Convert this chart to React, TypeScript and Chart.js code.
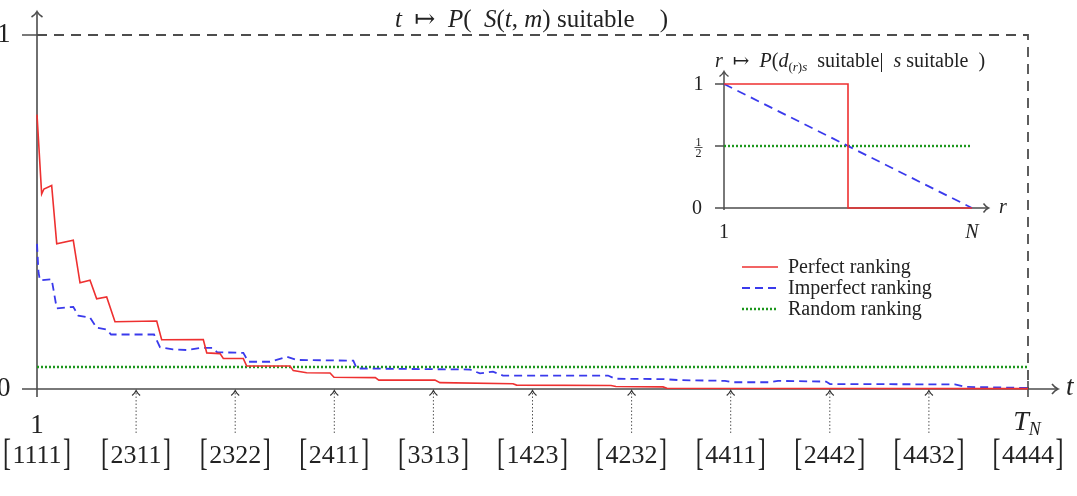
import React, { useEffect, useRef } from "react";
import { Chart, registerables } from "chart.js";

Chart.register(...registerables);

const W = 1077;
const H = 496;
const SERIF = '"Liberation Serif", "Times New Roman", "DejaVu Serif", serif';
const INK = "#222";
const AXIS = "#4d4d4d";

// t axis runs from 0 (t = 1) to 10 (t = T_N); one marker per unit
const markerPos = [0, 1, 2, 3, 4, 5, 6, 7, 8, 9, 10];
const markerLabels = [
  "[1111]", "[2311]", "[2322]", "[2411]", "[3313]", "[1423]",
  "[4232]", "[4411]", "[2442]", "[4432]", "[4444]",
];

// Perfect ranking
const perfectT = [
  0, 0.047, 0.07, 0.148, 0.199, 0.366, 0.434, 0.535, 0.602, 0.703,
  0.787, 1.208, 1.258, 1.678, 1.713, 1.847, 1.88, 2.082, 2.116, 2.553,
  2.586, 2.721, 2.957, 2.997, 3.414, 3.449, 4.016, 4.066, 4.803, 4.839,
  5.792, 5.842, 6.317, 6.357, 10,
];
const perfectP = [
  0.775, 0.551, 0.565, 0.575, 0.41, 0.42, 0.3, 0.307, 0.255, 0.26,
  0.19, 0.192, 0.139, 0.14, 0.102, 0.1, 0.086, 0.086, 0.065, 0.065,
  0.052, 0.046, 0.045, 0.033, 0.032, 0.025, 0.025, 0.018, 0.015, 0.011,
  0.01, 0.007, 0.006, 0.002, 0.001,
];

// Imperfect ranking
const imperfectT = [
  0, 0.015, 0.03, 0.148, 0.199, 0.366, 0.417, 0.535, 0.602, 0.703,
  0.747, 1.181, 1.241, 1.372, 1.514, 1.645, 1.776, 1.816, 2.082, 2.132,
  2.351, 2.52, 2.621, 3.192, 3.226, 4.369, 4.47, 4.601, 4.702, 5.762,
  5.833, 6.317, 6.488, 6.942, 7.023, 7.397, 7.478, 7.962, 8.002, 9.263,
  9.374, 10,
];
const imperfectP = [
  0.41, 0.33, 0.307, 0.31, 0.228, 0.232, 0.207, 0.202, 0.173, 0.168,
  0.154, 0.154, 0.118, 0.112, 0.11, 0.116, 0.116, 0.104, 0.102, 0.077,
  0.077, 0.091, 0.082, 0.08, 0.058, 0.055, 0.044, 0.049, 0.038, 0.038,
  0.029, 0.028, 0.025, 0.023, 0.019, 0.019, 0.023, 0.021, 0.014, 0.013,
  0.006, 0.003,
];

// Random ranking
const randomT = [0, 10];
const randomP = [0.062, 0.062];

// Inset: r from 1 (0) to N (1)
const insetPerfectR = [0, 0.5, 0.5, 1];
const insetPerfectP = [1, 1, 0, 0];
const insetImperfectR = [0, 1];
const insetImperfectP = [1, 0];
const insetRandomR = [0, 1];
const insetRandomP = [0.5, 0.5];

const seriesLabels = ["Perfect ranking", "Imperfect ranking", "Random ranking"];
const RED = "rgb(238, 48, 48)";
const BLUE = "rgb(58, 58, 236)";
const GREEN = "rgb(28, 150, 28)";

type Seg = { s: string; it?: boolean; px?: number; dy?: number };

const mainTitle: Seg[] = [
  { s: "t", it: true },
  { s: "  \u21A6  " },
  { s: "P", it: true },
  { s: "(  " },
  { s: "S", it: true },
  { s: "(" },
  { s: "t", it: true },
  { s: ", " },
  { s: "m", it: true },
  { s: ") suitable    )" },
];

const insetTitle: Seg[] = [
  { s: "r", it: true },
  { s: "  \u21A6  " },
  { s: "P", it: true },
  { s: "(" },
  { s: "d", it: true },
  { s: "(", px: 13, dy: 4 },
  { s: "r", it: true, px: 13, dy: 4 },
  { s: ")", px: 13, dy: 4 },
  { s: "s", it: true, px: 13, dy: 4 },
  { s: "  suitable|  " },
  { s: "s", it: true },
  { s: " suitable  )" },
];

const tEndLabel: Seg[] = [
  { s: "T", it: true, px: 28 },
  { s: "N", it: true, px: 18, dy: 5 },
];

const fnt = (px: number, it?: boolean) => `${it ? "italic " : ""}${px}px ${SERIF}`;

function segsWidth(ctx: CanvasRenderingContext2D, segs: Seg[], base: number) {
  let w = 0;
  for (const g of segs) {
    ctx.font = fnt(g.px ?? base, g.it);
    w += ctx.measureText(g.s).width;
  }
  return w;
}

function drawSegs(
  ctx: CanvasRenderingContext2D,
  segs: Seg[],
  x: number,
  y: number,
  base: number,
  align: "left" | "center"
) {
  const w = segsWidth(ctx, segs, base);
  let cx = align === "center" ? x - w / 2 : x;
  ctx.textAlign = "left";
  ctx.textBaseline = "alphabetic";
  for (const g of segs) {
    ctx.font = fnt(g.px ?? base, g.it);
    ctx.fillText(g.s, cx, y + (g.dy ?? 0));
    cx += ctx.measureText(g.s).width;
  }
}

// open "->" style arrow head
function arrowHead(
  ctx: CanvasRenderingContext2D,
  tx: number,
  ty: number,
  dir: "up" | "right",
  len: number,
  half: number
) {
  ctx.beginPath();
  if (dir === "up") {
    ctx.moveTo(tx - half, ty + len);
    ctx.quadraticCurveTo(tx - half * 0.25, ty + len * 0.5, tx, ty);
    ctx.quadraticCurveTo(tx + half * 0.25, ty + len * 0.5, tx + half, ty + len);
  } else {
    ctx.moveTo(tx - len, ty - half);
    ctx.quadraticCurveTo(tx - len * 0.5, ty - half * 0.25, tx, ty);
    ctx.quadraticCurveTo(tx - len * 0.5, ty + half * 0.25, tx - len, ty + half);
  }
  ctx.stroke();
}

function pts(xs: number[], ys: number[]) {
  return xs.map((x, i) => ({ x, y: ys[i] }));
}

const mainDecor = {
  id: "mainDecor",
  beforeDatasetsDraw(chart: any) {
    const { ctx } = chart;
    const sx = chart.scales.x;
    const sy = chart.scales.y;
    const x0 = sx.getPixelForValue(markerPos[0]);
    const x1 = sx.getPixelForValue(markerPos[markerPos.length - 1]);
    const y0 = sy.getPixelForValue(0);
    const y1 = sy.getPixelForValue(1);
    ctx.save();

    // dashed bound at P = 1 and at t = T_N
    ctx.strokeStyle = AXIS;
    ctx.lineWidth = 1.8;
    ctx.setLineDash([10, 7]);
    ctx.beginPath();
    ctx.moveTo(x0, y1);
    ctx.lineTo(x1, y1);
    ctx.lineTo(x1, y0);
    ctx.stroke();
    ctx.setLineDash([]);

    // axes
    ctx.lineWidth = 1.6;
    ctx.beginPath();
    ctx.moveTo(x0, y0 + 8);
    ctx.lineTo(x0, 12);
    ctx.moveTo(x0 - 15, y1);
    ctx.lineTo(x0, y1);
    ctx.moveTo(x0 - 15, y0);
    ctx.lineTo(1057, y0);
    ctx.moveTo(x1, y0 - 8);
    ctx.lineTo(x1, y0 + 8);
    ctx.stroke();
    arrowHead(ctx, x0, 11.5, "up", 5.5, 5.5);
    arrowHead(ctx, 1058, y0, "right", 6, 5);

    // y labels
    ctx.fillStyle = INK;
    ctx.font = fnt(27);
    ctx.textAlign = "right";
    ctx.textBaseline = "middle";
    ctx.fillText("1", 10.5, y1);
    ctx.fillText("0", 10.5, y0);

    // axis name
    ctx.font = fnt(27, true);
    ctx.textAlign = "left";
    ctx.textBaseline = "alphabetic";
    ctx.fillText("t", 1066, 395);

    // end labels of the t axis
    ctx.font = fnt(27);
    ctx.textAlign = "center";
    ctx.fillText("1", x0, 433);
    drawSegs(ctx, tEndLabel, x1 - 1, 430, 28, "center");

    // markers with their labels
    for (let i = 0; i < markerPos.length; i++) {
      const cx = sx.getPixelForValue(markerPos[i]);
      if (i > 0 && i < markerPos.length - 1) {
        ctx.strokeStyle = "#555";
        ctx.lineWidth = 1;
        ctx.setLineDash([1.5, 2]);
        ctx.beginPath();
        ctx.moveTo(cx, y0 + 4);
        ctx.lineTo(cx, 435);
        ctx.stroke();
        ctx.setLineDash([]);
        ctx.lineWidth = 1.2;
        ctx.strokeStyle = "#333";
        arrowHead(ctx, cx, y0 + 1.5, "up", 5, 4);
      }
      const lab = markerLabels[i];
      const m = /^\[(.*)\]$/.exec(lab);
      const inner = m ? m[1] : lab;
      ctx.font = fnt(26);
      ctx.textAlign = "center";
      ctx.textBaseline = "alphabetic";
      const w = ctx.measureText(inner).width;
      ctx.fillText(inner, cx, 463);
      if (m) {
        ctx.font = fnt(24);
        for (const [b, bx, al] of [
          ["[", cx - w / 2 - 1.5, "right"],
          ["]", cx + w / 2 + 1.5, "left"],
        ] as [string, number, CanvasTextAlign][]) {
          ctx.save();
          ctx.translate(bx, 455.5);
          ctx.scale(1, 1.6);
          ctx.textAlign = al;
          ctx.fillText(b, 0, 6);
          ctx.restore();
        }
      }
    }

    // title
    drawSegs(ctx, mainTitle, (x0 + x1) / 2 - 1, 27, 25, "center");
    ctx.restore();
  },
  afterDatasetsDraw(chart: any) {
    const { ctx } = chart;
    const ds = chart.data.datasets;
    const rows = [267, 288, 309];
    ctx.save();
    for (let i = 0; i < ds.length; i++) {
      const d = ds[i];
      ctx.strokeStyle = d.borderColor;
      ctx.lineWidth = d.borderWidth;
      ctx.setLineDash(d.borderDash || []);
      ctx.beginPath();
      ctx.moveTo(742, rows[i]);
      ctx.lineTo(778, rows[i]);
      ctx.stroke();
      ctx.setLineDash([]);
      ctx.fillStyle = INK;
      ctx.font = fnt(20);
      ctx.textAlign = "left";
      ctx.textBaseline = "middle";
      ctx.fillText(d.label, 788, rows[i] + 1);
    }
    ctx.restore();
  },
};

const insetDecor = {
  id: "insetDecor",
  beforeDatasetsDraw(chart: any) {
    const { ctx } = chart;
    const sx = chart.scales.x;
    const sy = chart.scales.y;
    const x0 = sx.getPixelForValue(0);
    const x1 = sx.getPixelForValue(1);
    const y0 = sy.getPixelForValue(0);
    const yh = sy.getPixelForValue(0.5);
    const y1 = sy.getPixelForValue(1);
    ctx.save();
    ctx.strokeStyle = AXIS;
    ctx.lineWidth = 1.5;
    ctx.beginPath();
    ctx.moveTo(x0, y0 + 2);
    ctx.lineTo(x0, 72);
    ctx.moveTo(x0 - 9, y0);
    ctx.lineTo(988, y0);
    ctx.moveTo(x0 - 9, y1);
    ctx.lineTo(x0, y1);
    ctx.moveTo(x0 - 9, yh);
    ctx.lineTo(x0, yh);
    ctx.stroke();
    arrowHead(ctx, x0, 71.5, "up", 5, 4.5);
    arrowHead(ctx, 988.5, y0, "right", 5, 4.5);

    ctx.fillStyle = INK;
    ctx.font = fnt(20);
    ctx.textAlign = "center";
    ctx.textBaseline = "middle";
    ctx.fillText("1", 698.5, y1 + 1);
    ctx.fillText("0", 697, y0 + 0.5);
    // one half as a stacked fraction
    ctx.font = fnt(12);
    ctx.textBaseline = "alphabetic";
    ctx.fillText("1", 698.5, yh - 0.5);
    ctx.fillText("2", 698.5, yh + 11);
    ctx.lineWidth = 0.8;
    ctx.strokeStyle = INK;
    ctx.beginPath();
    ctx.moveTo(694.5, yh + 1.5);
    ctx.lineTo(702.5, yh + 1.5);
    ctx.stroke();

    ctx.font = fnt(20);
    ctx.fillText("1", x0, 238);
    ctx.font = fnt(20, true);
    ctx.fillText("N", x1, 238);
    ctx.textAlign = "left";
    ctx.fillText("r", 999, 213);

    drawSegs(ctx, insetTitle, 715, 67, 20, "left");
    ctx.restore();
  },
};

const baseOptions = (padding: any, xmax: number) => ({
  responsive: false,
  animation: false as const,
  events: [] as any[],
  layout: { padding },
  plugins: { legend: { display: false }, tooltip: { enabled: false } },
  elements: { point: { radius: 0 }, line: { tension: 0 } },
  scales: {
    x: { type: "linear" as const, min: 0, max: xmax, display: false },
    y: { type: "linear" as const, min: 0, max: 1, display: false },
  },
});

export default function App() {
  const mainRef = useRef<HTMLCanvasElement>(null);
  const insetRef = useRef<HTMLCanvasElement>(null);

  useEffect(() => {
    const main = new Chart(mainRef.current!, {
      type: "line",
      data: {
        datasets: [
          {
            label: seriesLabels[0],
            data: pts(perfectT, perfectP),
            borderColor: RED,
            borderWidth: 1.6,
            clip: false,
          },
          {
            label: seriesLabels[1],
            data: pts(imperfectT, imperfectP),
            borderColor: BLUE,
            borderWidth: 1.8,
            borderDash: [8, 5],
            clip: false,
          },
          {
            label: seriesLabels[2],
            data: pts(randomT, randomP),
            borderColor: GREEN,
            borderWidth: 2.4,
            borderDash: [2, 2],
            clip: false,
          },
        ],
      } as any,
      options: baseOptions({ left: 37, right: 49, top: 35, bottom: 107 }, 10) as any,
      plugins: [mainDecor],
    });

    const inset = new Chart(insetRef.current!, {
      type: "line",
      data: {
        datasets: [
          {
            label: seriesLabels[0],
            data: pts(insetPerfectR, insetPerfectP),
            borderColor: RED,
            borderWidth: 1.6,
            clip: false,
          },
          {
            label: seriesLabels[1],
            data: pts(insetImperfectR, insetImperfectP),
            borderColor: BLUE,
            borderWidth: 1.8,
            borderDash: [9, 6],
            clip: false,
          },
          {
            label: seriesLabels[2],
            data: pts(insetRandomR, insetRandomP),
            borderColor: GREEN,
            borderWidth: 2.4,
            borderDash: [2, 2],
            clip: false,
          },
        ],
      } as any,
      options: baseOptions({ left: 724, right: 105, top: 84, bottom: 288 }, 1) as any,
      plugins: [insetDecor],
    });

    return () => {
      main.destroy();
      inset.destroy();
    };
  }, []);

  return (
    <div style={{ position: "fixed", left: 0, top: 0, width: W, height: H, background: "#fff" }}>
      <canvas ref={mainRef} width={W} height={H} style={{ position: "absolute", left: 0, top: 0 }} />
      <canvas ref={insetRef} width={W} height={H} style={{ position: "absolute", left: 0, top: 0 }} />
    </div>
  );
}
